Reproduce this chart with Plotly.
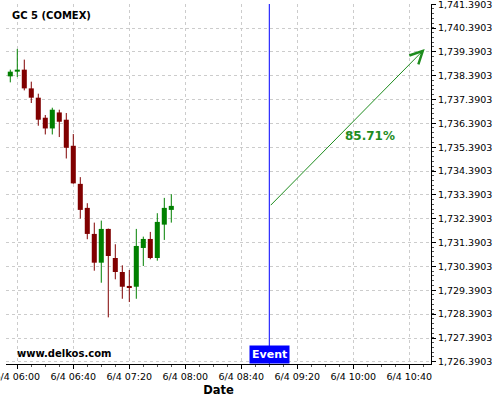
import plotly.graph_objects as go

# ---- data ----
times = ["2021-06-04 05:55", "2021-06-04 06:00", "2021-06-04 06:05", "2021-06-04 06:10",
         "2021-06-04 06:15", "2021-06-04 06:20", "2021-06-04 06:25", "2021-06-04 06:30",
         "2021-06-04 06:35", "2021-06-04 06:40", "2021-06-04 06:45", "2021-06-04 06:50",
         "2021-06-04 06:55", "2021-06-04 07:00", "2021-06-04 07:05", "2021-06-04 07:10",
         "2021-06-04 07:15", "2021-06-04 07:20", "2021-06-04 07:25", "2021-06-04 07:30",
         "2021-06-04 07:35", "2021-06-04 07:40", "2021-06-04 07:45", "2021-06-04 07:50"]
opens = [1738.365, 1738.562, 1738.646, 1737.861, 1737.470, 1736.630, 1736.180, 1736.852,
         1736.546, 1735.453, 1733.856, 1732.848, 1731.756, 1730.550, 1731.966, 1730.747,
         1730.159, 1729.571, 1729.541, 1731.167, 1731.545, 1730.747, 1732.146, 1732.764]
highs = [1738.646, 1739.516, 1739.067, 1738.142, 1737.638, 1736.743, 1737.050, 1736.966,
         1736.827, 1735.945, 1734.138, 1733.045, 1732.230, 1732.314, 1731.980, 1731.323,
         1730.440, 1730.243, 1731.966, 1731.642, 1731.840, 1732.625, 1733.268, 1733.424]
lows = [1738.113, 1738.340, 1737.777, 1737.247, 1736.294, 1735.928, 1735.928, 1735.819,
        1734.920, 1733.860, 1732.398, 1731.533, 1730.214, 1729.709, 1728.256, 1729.852,
        1729.037, 1728.898, 1729.037, 1730.411, 1730.693, 1730.634, 1731.504, 1732.230]
closes = [1738.562, 1738.646, 1737.861, 1737.470, 1736.546, 1736.180, 1736.966, 1736.462,
          1735.369, 1733.877, 1732.764, 1731.756, 1730.550, 1731.966, 1730.831, 1730.159,
          1729.541, 1729.529, 1731.251, 1731.545, 1730.747, 1732.260, 1732.848, 1732.932]

title_text = "GC 5 (COMEX)"
event_time = "2021-06-04 09:00"
arrow_start = 1732.90
arrow_end_time = "2021-06-04 10:51"
arrow_end = 1739.516
prob_label = "85.71%"
label_time = "2021-06-04 10:12"
label_value = 1735.87
x_range = ["2021-06-04 05:51:56", "2021-06-04 10:55:30"]
y_range = [1726.30, 1741.40]

GREEN = "#008000"
RED = "#800000"
FONT = "DejaVu Sans"
CANDLE_MS = 5 * 60 * 1000

fig = go.Figure()

# bodies as bars
up = [c >= o for o, c in zip(opens, closes)]
bases = [min(o, c) for o, c in zip(opens, closes)]
heights = [max(abs(c - o), 0.045) for o, c in zip(opens, closes)]
colors = [GREEN if u else RED for u in up]
fig.add_trace(go.Bar(x=times, y=heights, base=bases, width=CANDLE_MS * 0.72,
                     marker=dict(color=colors, line=dict(width=0)),
                     hoverinfo="skip", showlegend=False))

# wicks
for want_up, col in ((True, GREEN), (False, RED)):
    wx, wy = [], []
    for t, h, l, u in zip(times, highs, lows, up):
        if u == want_up:
            wx += [t, t, None]
            wy += [l, h, None]
    fig.add_trace(go.Scatter(x=wx, y=wy, mode="lines", line=dict(color=col, width=1),
                             hoverinfo="skip", showlegend=False))

# event line
fig.add_shape(type="line", xref="x", yref="paper", x0=event_time, x1=event_time,
              y0=0, y1=1, line=dict(color="#0000ff", width=1))

# arrow
fig.add_annotation(x=arrow_end_time, y=arrow_end, ax=event_time, ay=arrow_start,
                   xref="x", yref="y", axref="x", ayref="y",
                   showarrow=True, arrowhead=5, arrowsize=2.5, arrowwidth=1,
                   arrowcolor="#1e8c1e", text="")
fig.add_annotation(x=label_time, y=label_value, xref="x", yref="y", text=prob_label,
                   showarrow=False, font=dict(family=FONT, size=12, color="#1e8c1e", weight="bold"))

# event box
fig.add_annotation(x=event_time, y=0, xref="x", yref="paper", yanchor="bottom",
                   text="Event", showarrow=False, bgcolor="#0000ff", borderpad=2,
                   font=dict(family=FONT, size=11, color="white", weight="bold"))

# titles / watermark
fig.add_annotation(x=0.01, y=1, xref="paper", yref="paper", xanchor="left", yanchor="top",
                   yshift=-4, text=title_text, showarrow=False,
                   font=dict(family=FONT, size=10, color="black", weight="bold"))
fig.add_annotation(x=0.022, y=0, xref="paper", yref="paper", xanchor="left", yanchor="bottom",
                   yshift=3, text="www.delkos.com", showarrow=False,
                   font=dict(family=FONT, size=10, color="black", weight="bold"))

fig.update_layout(
    width=500, height=400,
    margin=dict(l=6, r=69, t=4, b=36),
    paper_bgcolor="white", plot_bgcolor="white",
    font=dict(family=FONT, size=9.5, color="black"),
    showlegend=False,
    barmode="overlay",
    xaxis=dict(
        type="date", range=x_range,
        tick0="2021-06-04 06:00", dtick=40 * 60 * 1000, tickformat="%-m/%-d %H:%M",
        ticks="outside", ticklen=4, tickcolor="black", ticklabeloverflow="allow",
        minor=dict(dtick=10 * 60 * 1000, ticks="outside", ticklen=2, tickcolor="#555", showgrid=False),
        showline=True, linecolor="black", linewidth=1,
        showgrid=True, gridcolor="#cccccc", griddash="3px,3px", gridwidth=1,
        zeroline=False, automargin=False,
        title=dict(text="Date", font=dict(family=FONT, size=11.5, weight="bold"), standoff=4),
    ),
    yaxis=dict(
        side="right", range=y_range, tick0=1726.3903, dtick=1, tickformat=",.4f",
        ticks="outside", ticklen=4, tickcolor="black", ticklabeloverflow="allow",
        minor=dict(dtick=0.2, ticks="outside", ticklen=2, tickcolor="#555", showgrid=False),
        showline=True, linecolor="black", linewidth=1,
        showgrid=True, gridcolor="#cccccc", griddash="3px,3px", gridwidth=1,
        zeroline=False, automargin=False,
    ),
)

fig.write_html("out.html", config={"displayModeBar": False},
               post_script="document.body.style.margin='0';document.body.style.padding='0';")
